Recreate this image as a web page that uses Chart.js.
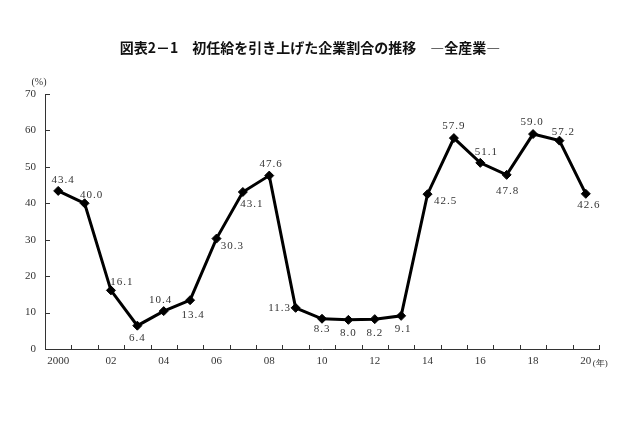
<!DOCTYPE html>
<html>
<head>
<meta charset="utf-8">
<script src="https://cdn.jsdelivr.net/npm/chart.js@4"></script>
<style>
  html, body { margin: 0; padding: 0; background: #fff; }
  #wrap { width: 640px; height: 426px; position: relative; }
</style>
</head>
<body>
<div id="wrap"><canvas id="chart" width="640" height="426"></canvas></div>
<script>
// data
const years = ["2000","2001","2002","2003","2004","2005","2006","2007","2008","2009","2010",
  "2011","2012","2013","2014","2015","2016","2017","2018","2019","2020"];
const rates = [43.4, 40.0, 16.1, 6.4, 10.4, 13.4, 30.3, 43.1, 47.6, 11.3, 8.3,
  8.0, 8.2, 9.1, 42.5, 57.9, 51.1, 47.8, 59.0, 57.2, 42.6];
const xTickLabels = ["2000","","02","","04","","06","","08","","10","","12","","14","","16","","18","","20"];
const yTicks = [0, 10, 20, 30, 40, 50, 60, 70];

const titleText = "図表2－1　初任給を引き上げた企業割合の推移　―全産業―";

// where each value label sits relative to its point (dx, dy in px)
const labelOffsets = [
  [5, -11], [7, -8], [11, -8], [0, 12], [-3, -11], [3, 15], [16, 7], [9, 12],
  [2, -11], [-16, 0], [0, 10], [0, 13], [0, 14], [2, 13], [18, 7], [0, -12],
  [6, -11], [1, 16], [-1, -12], [4, -9], [3, 11]
];

const serif = '"Liberation Serif", "DejaVu Serif", serif';

// draws title, inward tick marks, value labels and unit labels
const decorations = {
  id: "decorations",
  afterDraw(chart) {
    const ctx = chart.ctx;
    const xs = chart.scales.x, ys = chart.scales.y;
    const area = chart.chartArea;
    ctx.save();

    // title
    ctx.fillStyle = "#111";
    ctx.font = '600 14px "Noto Sans CJK JP"';
    ctx.textAlign = "center";
    ctx.textBaseline = "middle";
    ctx.fillText(titleText, 310, 48);

    // tick marks pointing into the plot
    ctx.strokeStyle = "#333";
    ctx.lineWidth = 1;
    ctx.beginPath();
    yTicks.forEach(v => {
      if (v === 0) return;
      const y = Math.round(ys.getPixelForValue(v)) + 0.5;
      ctx.moveTo(area.left, y);
      ctx.lineTo(area.left + 5, y);
    });
    for (let i = 0; i <= years.length; i++) {
      const x = Math.round(xs.getPixelForValue(i - 0.5)) + 0.5;
      ctx.moveTo(x, area.bottom);
      ctx.lineTo(x, area.bottom - 4);
    }
    ctx.stroke();

    // value labels
    const meta = chart.getDatasetMeta(0);
    ctx.font = "11px " + serif;
    ctx.fillStyle = "#333";
    ctx.letterSpacing = "1px";
    meta.data.forEach((pt, i) => {
      const [dx, dy] = labelOffsets[i];
      ctx.fillText(rates[i].toFixed(1), pt.x + dx, pt.y + dy);
    });
    ctx.letterSpacing = "0px";

    // units
    ctx.font = "10px " + serif;
    ctx.fillText("(%)", area.left - 6, area.top - 12);
    ctx.font = "9px " + serif;
    ctx.textAlign = "left";
    ctx.fillText("(年)", xs.getPixelForValue(years.length - 1) + 7, area.bottom + 15);
    ctx.restore();
  }
};

const config = {
  type: "line",
  data: {
    labels: years,
    datasets: [{
      data: rates,
      borderColor: "#000",
      backgroundColor: "#000",
      borderWidth: 3,
      tension: 0,
      pointStyle: "rectRot",
      pointRadius: 4.5,
      pointBorderWidth: 1,
    }],
  },
  options: {
    responsive: false,
    animation: false,
    events: [],
    layout: { padding: { top: 94, right: 41, left: 0, bottom: 0 } },
    plugins: { legend: { display: false }, tooltip: { enabled: false } },
    scales: {
      x: {
        offset: true,
        afterFit: s => { s.height = 77; },
        grid: { display: false, drawTicks: false },
        border: { display: true, color: "#333", width: 1 },
        ticks: {
          autoSkip: false,
          maxRotation: 0,
          padding: 6,
          color: "#333",
          font: { family: serif, size: 11 },
          callback: (v, i) => xTickLabels[i],
        },
      },
      y: {
        min: 0,
        max: 70,
        afterFit: s => { s.width = 45; },
        grid: { display: false, drawTicks: false },
        border: { display: true, color: "#333", width: 1 },
        ticks: {
          stepSize: 10,
          padding: 9,
          color: "#333",
          font: { family: serif, size: 11 },
        },
      },
    },
  },
  plugins: [decorations],
};

const chart = new Chart(document.getElementById("chart"), config);
</script>
</body>
</html>
